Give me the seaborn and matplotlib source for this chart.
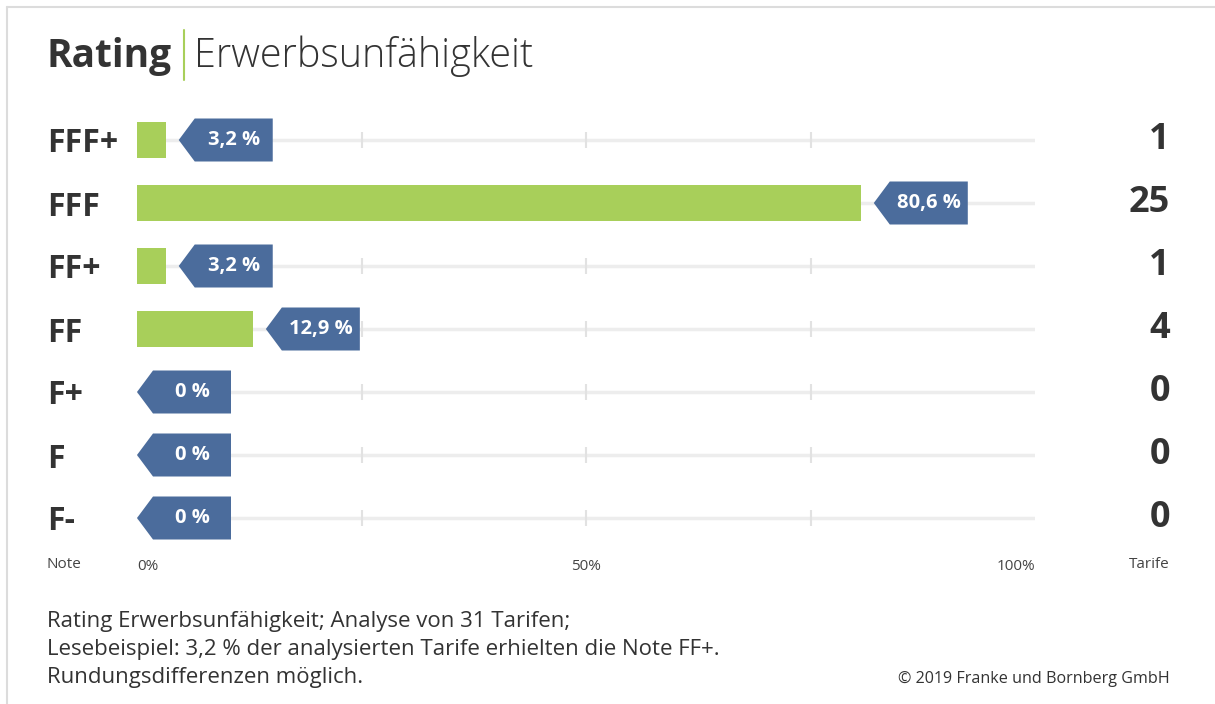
import pandas as pd
import matplotlib.pyplot as plt
import seaborn as sns
from matplotlib.patches import Polygon
from matplotlib.lines import Line2D

# Daten aus dem Rating
notes = ['FFF+', 'FFF', 'FF+', 'FF', 'F+', 'F', 'F-']
anteil = [3.2, 80.6, 3.2, 12.9, 0, 0, 0]
tarife = [1, 25, 1, 4, 0, 0, 0]
tag_labels = ['3,2 %', '80,6 %', '3,2 %', '12,9 %', '0 %', '0 %', '0 %']
x_ticks = [0, 50, 100]
x_ticklabels = ['0%', '50%', '100%']

GREEN = '#a8cf5a'
BLUE = '#4b6c9c'
DARK = '#333333'
TRACK = '#ededed'

sns.set_style('white')
plt.rcParams['font.family'] = ['Open Sans', 'DejaVu Sans']

W, H = 1215, 704
fig = plt.figure(figsize=(W / 100, H / 100), dpi=100)
fig.patch.set_facecolor('white')

# Plotbereich: 0 % bei x=137px, 100 % bei x=1035px
ax_left, ax_right = 137, 1035
ax_top, ax_bottom = 108.5, 549.5
ax = fig.add_axes([ax_left / W, 1 - ax_bottom / H,
                   (ax_right - ax_left) / W, (ax_bottom - ax_top) / H])

df = pd.DataFrame({'note': notes, 'anteil': anteil, 'tarife': tarife})

# Hintergrundschienen mit Zwischenmarken
ax.hlines(range(len(notes)), 0, 100, color=TRACK, lw=2.5, zorder=0)
for i in range(len(notes)):
    ax.scatter([25, 50, 75], [i] * 3, marker='|', s=120, color='#e2e2e2',
               linewidths=1.5, zorder=0)

sns.barplot(data=df, x='anteil', y='note', orient='h', color=GREEN,
            saturation=1, width=0.56, errorbar=None, linewidth=0, ax=ax)

ax.set_xlim(0, 100)
ax.set_ylim(len(notes) - 0.5, -0.5)
sns.despine(ax=ax, left=True, bottom=True)
ax.set_xlabel('')
ax.set_ylabel('')

# Prozent-Fähnchen
px = 100 / (ax_right - ax_left)
gap, tip, tag_w = 13 * px, 16 * px, 94 * px
half_h = 43 / 63 / 2
for i, (v, lab) in enumerate(zip(anteil, tag_labels)):
    x0 = v + gap if v > 0 else v
    poly = Polygon([(x0, i), (x0 + tip, i - half_h), (x0 + tag_w, i - half_h),
                    (x0 + tag_w, i + half_h), (x0 + tip, i + half_h)],
                   closed=True, facecolor=BLUE, edgecolor='none', zorder=3)
    ax.add_patch(poly)
    ax.text(x0 + (tip + tag_w) / 2, i, lab, ha='center', va='center',
            color='white', fontsize=14.5, fontweight='bold', zorder=4)

# Anzahl Tarife rechts
count_x = (1170 - ax_left) * px
for i, n in enumerate(tarife):
    ax.text(count_x, i, str(n), ha='right', va='center', fontsize=26,
            fontweight='bold', color=DARK, clip_on=False)

# Noten links
ax.tick_params(axis='y', length=0, pad=(ax_left - 47) * 0.72)
for t in ax.get_yticklabels():
    t.set_ha('left')
    t.set_fontsize(23)
    t.set_fontweight('bold')
    t.set_color(DARK)

# x-Achse
ax.set_xticks(x_ticks)
ax.set_xticklabels(x_ticklabels, fontsize=11, color='#444444')
ax.tick_params(axis='x', length=0, pad=7)
for t, al in zip(ax.get_xticklabels(), ['left', 'center', 'right']):
    t.set_ha(al)

lab_y = 1 - (565 - ax_top) / (ax_bottom - ax_top)
ax.text((47 - ax_left) * px, lab_y, 'Note', transform=ax.get_xaxis_transform(),
        ha='left', va='center', fontsize=11, color='#444444')
ax.text(count_x, lab_y, 'Tarife', transform=ax.get_xaxis_transform(),
        ha='right', va='center', fontsize=11, color='#444444')

# Titel
t1 = fig.text(47 / W, 1 - 67 / H, 'Rating', fontsize=28, fontweight='bold',
              color=DARK, ha='left', va='baseline')
fig.canvas.draw()
bb = t1.get_window_extent()
sep_x = bb.x1 + 12
fig.add_artist(Line2D([sep_x / W, sep_x / W], [1 - 30 / H, 1 - 80 / H],
                      transform=fig.transFigure, color=GREEN, lw=1.5))
fig.text((sep_x + 10) / W, 1 - 67 / H, 'Erwerbsunfähigkeit', fontsize=28.5,
         fontweight='light', color=DARK, ha='left', va='baseline')

# Fußnote
foot = ['Rating Erwerbsunfähigkeit; Analyse von 31 Tarifen;',
        'Lesebeispiel: 3,2 % der analysierten Tarife erhielten die Note FF+.',
        'Rundungsdifferenzen möglich.']
for k, line in enumerate(foot):
    fig.text(47 / W, 1 - (621 + 28.5 * k) / H, line, fontsize=16,
             color=DARK, ha='left', va='center')
fig.text(1170 / W, 1 - 679 / H, '© 2019 Franke und Bornberg GmbH', fontsize=11.6,
         color=DARK, ha='right', va='center')

# Rahmen oben und links
fig.add_artist(Line2D([7 / W, 1], [1 - 7 / H, 1 - 7 / H], transform=fig.transFigure,
                      color='#dcdcdc', lw=1.5))
fig.add_artist(Line2D([7 / W, 7 / W], [1 - 7 / H, 0], transform=fig.transFigure,
                      color='#dcdcdc', lw=1.5))

fig.savefig('out.png', dpi=100)
